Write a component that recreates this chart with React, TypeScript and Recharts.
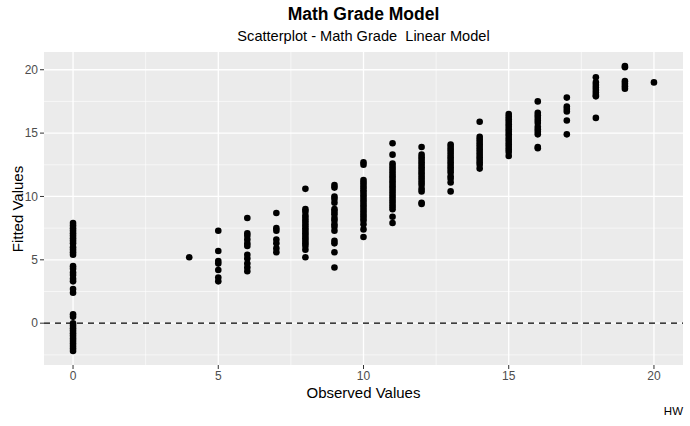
import React from "react";
import {
  ScatterChart,
  Scatter,
  XAxis,
  YAxis,
  ReferenceLine,
  ReferenceArea,
} from "recharts";

// fitted values, grouped by observed grade
const fittedAt0 = [7.9, 7.7, 7.5, 7.3, 7.1, 6.9, 6.7, 6.5, 6.3, 6.0, 5.8, 5.6, 5.4, 4.5, 4.3, 4.0, 3.8, 3.5, 3.3, 2.7, 2.4, 0.7, 0.5, 0.0, -0.2, -0.4, -0.6, -0.8, -1.0, -1.2, -1.4, -1.6, -1.8, -2.0, -2.2];
const fittedAt4 = [5.2];
const fittedAt5 = [7.3, 5.7, 4.9, 4.7, 4.2, 3.6, 3.3];
const fittedAt6 = [8.3, 7.1, 6.9, 6.6, 6.3, 6.1, 5.4, 5.1, 4.7, 4.4, 4.1];
const fittedAt7 = [8.7, 7.5, 7.3, 6.6, 6.3, 5.9, 5.6];
const fittedAt8 = [10.6, 9.0, 8.8, 8.5, 8.3, 8.1, 7.9, 7.7, 7.5, 7.3, 7.1, 6.9, 6.7, 6.5, 6.3, 6.1, 5.8, 5.2];
const fittedAt9 = [10.9, 10.7, 10.0, 9.8, 9.5, 9.0, 8.8, 8.6, 8.3, 8.1, 7.8, 7.6, 7.3, 6.5, 6.3, 5.6, 4.4];
const fittedAt10 = [12.7, 12.5, 11.3, 11.1, 10.9, 10.7, 10.5, 10.3, 10.1, 9.9, 9.7, 9.5, 9.3, 9.1, 8.9, 8.7, 8.5, 8.3, 8.1, 7.8, 7.4, 6.8];
const fittedAt11 = [14.2, 13.3, 12.6, 12.4, 12.2, 12.0, 11.8, 11.6, 11.4, 11.2, 11.0, 10.8, 10.6, 10.4, 10.2, 10.0, 9.8, 9.6, 9.4, 9.2, 9.0, 8.4, 7.9];
const fittedAt12 = [13.9, 13.3, 13.1, 12.9, 12.7, 12.5, 12.3, 12.1, 11.9, 11.7, 11.5, 11.3, 11.1, 10.9, 10.6, 10.4, 9.5, 9.4];
const fittedAt13 = [14.1, 13.9, 13.7, 13.5, 13.3, 13.1, 12.9, 12.7, 12.5, 12.3, 12.1, 11.9, 11.6, 11.4, 11.1, 10.4];
const fittedAt14 = [15.9, 14.7, 14.5, 14.3, 14.1, 13.9, 13.7, 13.5, 13.3, 13.1, 12.9, 12.7, 12.5, 12.2];
const fittedAt15 = [16.5, 16.3, 16.1, 15.9, 15.7, 15.5, 15.3, 15.1, 14.9, 14.7, 14.5, 14.3, 14.1, 13.9, 13.7, 13.5, 13.2];
const fittedAt16 = [17.5, 16.6, 16.4, 16.2, 16.0, 15.8, 15.5, 15.3, 15.1, 14.9, 13.9, 13.8];
const fittedAt17 = [17.8, 17.1, 16.9, 16.7, 16.0, 14.9];
const fittedAt18 = [19.4, 19.0, 18.8, 18.6, 18.4, 18.2, 18.0, 17.9, 16.2];
const fittedAt19 = [20.3, 20.2, 19.1, 18.9, 18.7, 18.5];
const fittedAt20 = [19.0];

const observedValues = [0, 4, 5, 6, 7, 8, 9, 10, 11, 12, 13, 14, 15, 16, 17, 18, 19, 20];
const fittedGroups = [
  fittedAt0, fittedAt4, fittedAt5, fittedAt6, fittedAt7, fittedAt8, fittedAt9, fittedAt10, fittedAt11,
  fittedAt12, fittedAt13, fittedAt14, fittedAt15, fittedAt16, fittedAt17, fittedAt18, fittedAt19, fittedAt20,
];

const xTicks = [0, 5, 10, 15, 20];
const yTicks = [0, 5, 10, 15, 20];
const xMinorGrid = [2.5, 7.5, 12.5, 17.5];
const yMinorGrid = [-2.5, 2.5, 7.5, 12.5, 17.5];

const xDomain: [number, number] = [-1, 21];
const yDomain: [number, number] = [-3.3, 21.4];

const points = observedValues.flatMap((obs, i) =>
  fittedGroups[i].map((fit) => ({ observed: obs, fitted: fit }))
);

const font = "'Liberation Sans', Arial, Helvetica, sans-serif";
const tickStyle = { fill: "#4D4D4D", fontSize: 12, fontFamily: font };

const Dot = (props: any) => <circle cx={props.cx} cy={props.cy} r={3.3} fill="#000" />;

export default function App() {
  return (
    <div
      style={{
        position: "absolute",
        left: 0,
        top: 0,
        width: 690,
        height: 426,
        background: "#fff",
        fontFamily: font,
      }}
    >
      <ScatterChart width={690} height={426} margin={{ top: 52, right: 7, bottom: 0, left: 0 }}>
        <XAxis
          type="number"
          dataKey="observed"
          domain={xDomain}
          ticks={xTicks}
          allowDataOverflow
          height={61}
          axisLine={false}
          tickSize={4}
          tickMargin={2}
          tickLine={{ stroke: "#333" }}
          tick={tickStyle}
        />
        <YAxis
          type="number"
          dataKey="fitted"
          domain={yDomain}
          ticks={yTicks}
          allowDataOverflow
          width={44}
          axisLine={false}
          tickSize={4}
          tickMargin={2}
          tickLine={{ stroke: "#333" }}
          tick={tickStyle}
        />
        <ReferenceArea
          x1={xDomain[0]}
          x2={xDomain[1]}
          y1={yDomain[0]}
          y2={yDomain[1]}
          fill="#EBEBEB"
          fillOpacity={1}
          stroke="none"
        />
        {xMinorGrid.map((v) => (
          <ReferenceLine key={"xm" + v} x={v} stroke="#fff" strokeWidth={0.6} />
        ))}
        {yMinorGrid.map((v) => (
          <ReferenceLine key={"ym" + v} y={v} stroke="#fff" strokeWidth={0.6} />
        ))}
        {xTicks.map((v) => (
          <ReferenceLine key={"xM" + v} x={v} stroke="#fff" strokeWidth={1.3} />
        ))}
        {yTicks.map((v) => (
          <ReferenceLine key={"yM" + v} y={v} stroke="#fff" strokeWidth={1.3} />
        ))}
        <ReferenceLine y={0} stroke="#000" strokeWidth={1.3} strokeDasharray="6 5" />
        <Scatter data={points} shape={<Dot />} isAnimationActive={false} />
      </ScatterChart>

      <div style={{ position: "absolute", left: 44, width: 639, top: 4, lineHeight: "20px", textAlign: "center", fontSize: 17.5, fontWeight: "bold", color: "#000" }}>
        Math Grade Model
      </div>
      <div style={{ position: "absolute", left: 44, width: 639, top: 27, lineHeight: "18px", textAlign: "center", fontSize: 14.6, color: "#000", whiteSpace: "pre" }}>
        Scatterplot - Math Grade  Linear Model
      </div>
      <div style={{ position: "absolute", left: 44, width: 639, top: 384, lineHeight: "18px", textAlign: "center", fontSize: 15, color: "#000" }}>
        Observed Values
      </div>
      <div
        style={{
          position: "absolute",
          left: 18,
          top: 209,
          transform: "translate(-50%, -50%) rotate(-90deg)",
          whiteSpace: "nowrap",
          fontSize: 15,
          lineHeight: "18px",
          color: "#000",
        }}
      >
        Fitted Values
      </div>
      <div style={{ position: "absolute", right: 7, top: 404, lineHeight: "14px", fontSize: 11.5, color: "#000" }}>
        HW
      </div>
    </div>
  );
}
